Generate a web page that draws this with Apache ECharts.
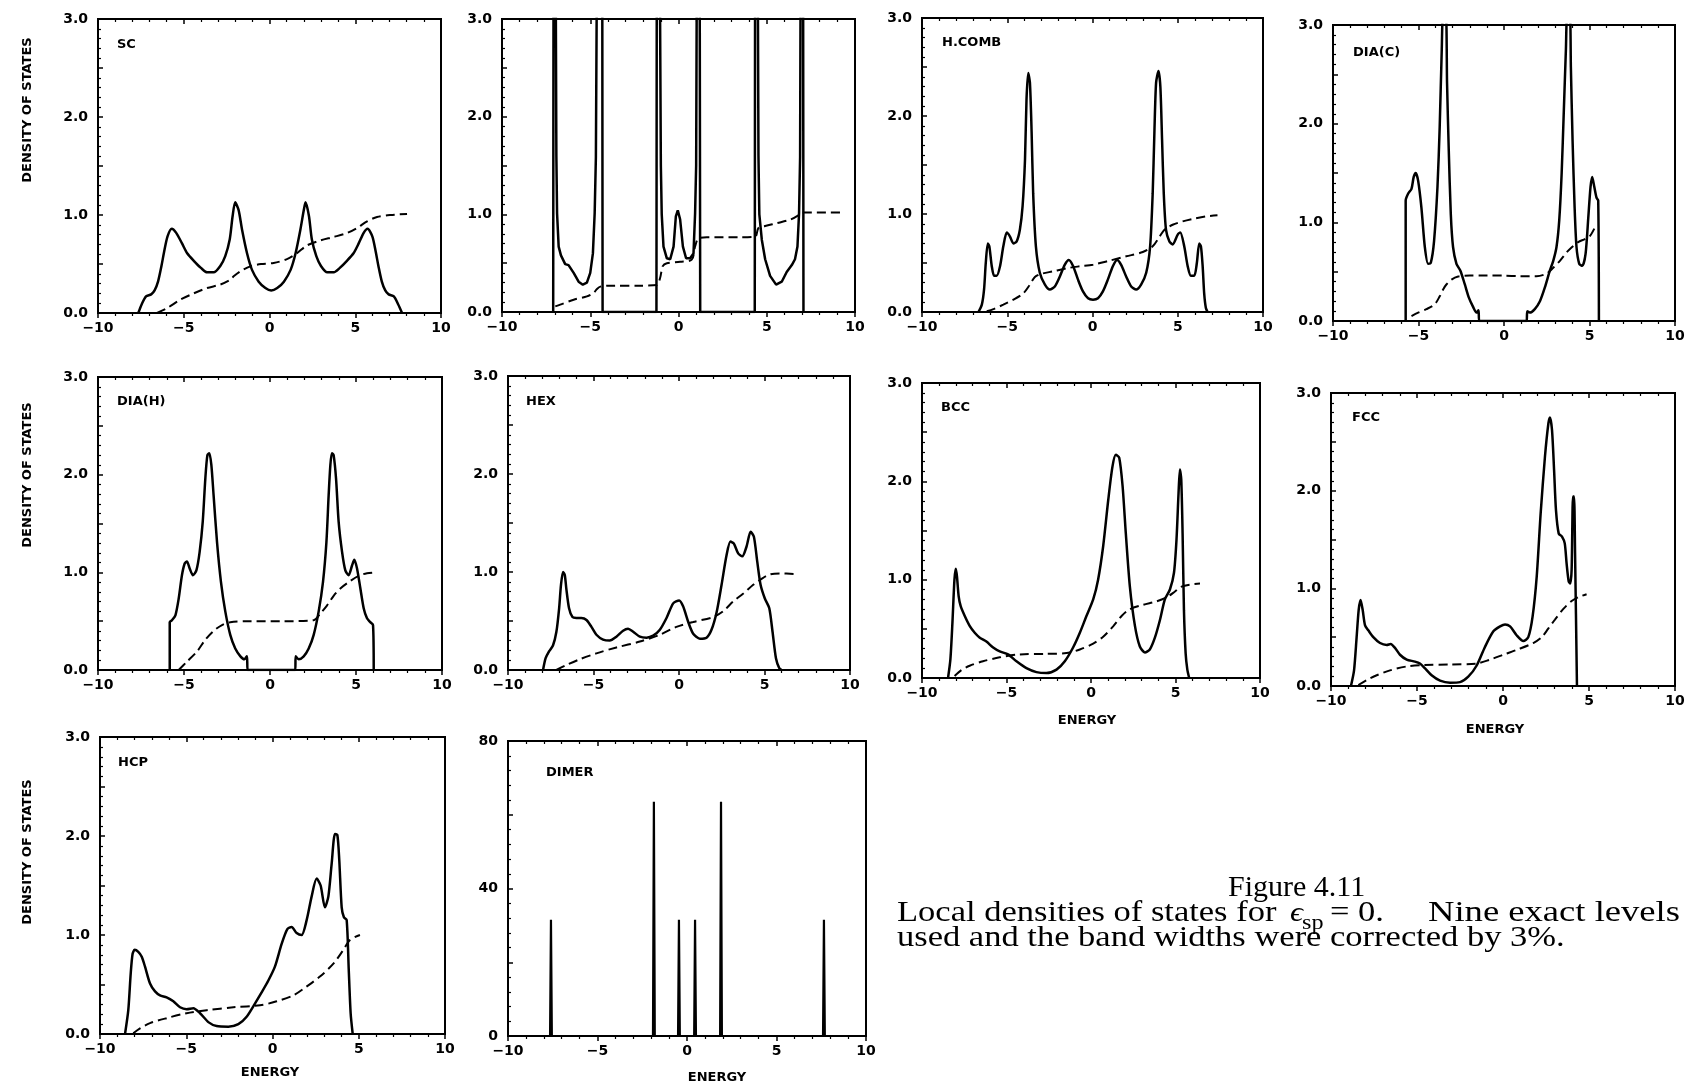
<!DOCTYPE html>
<html>
<head>
<meta charset="utf-8">
<script src="https://cdn.jsdelivr.net/npm/echarts@6/dist/echarts.min.js"></script>
<style>
  html, body { margin: 0; padding: 0; background: #fff; }
  #chart { width: 1688px; height: 1085px; }
</style>
</head>
<body>
<div id="chart"></div>
<script>
// ---- Local densities of states (solid) and integrated counts (dashed), energy in eV ----

const SC_DOS = [[-7.65,0],[-7.45,0.09],[-7.2,0.17],[-6.9,0.19],[-6.7,0.23],[-6.5,0.32],[-6.3,0.48],[-6.15,0.62],[-5.95,0.78],[-5.7,0.86],
  [-5.45,0.82],[-5.1,0.71],[-4.8,0.61],[-4.4,0.53],[-4.0,0.46],[-3.64,0.415],[-3.26,0.415],[-2.87,0.48],[-2.58,0.58],[-2.32,0.75],[-2.15,0.99],
  [-2.0,1.13],[-1.8,1.05],[-1.6,0.85],[-1.31,0.61],[-1.02,0.44],[-0.63,0.32],[-0.24,0.255],[0.1,0.23],[0.45,0.255],[0.84,0.32],[1.23,0.44],
  [1.52,0.61],[1.8,0.85],[2.0,1.05],[2.1,1.13],[2.3,0.99],[2.47,0.75],[2.73,0.58],[3.0,0.48],[3.37,0.415],[3.75,0.415],[4.1,0.46],[4.5,0.53],
  [4.9,0.61],[5.2,0.71],[5.5,0.82],[5.72,0.86],[6.0,0.78],[6.2,0.62],[6.35,0.48],[6.55,0.32],[6.75,0.23],[6.95,0.19],[7.25,0.17],[7.5,0.09],[7.73,0]];
const SC_INT = [[-6.56,0],[-5.97,0.05],[-5.2,0.136],[-4.42,0.2],[-3.64,0.255],[-2.87,0.29],[-2.28,0.34],[-2.09,0.374],[-1.7,0.425],[-1.12,0.476],
  [-0.5,0.5],[0.24,0.51],[1.02,0.55],[1.6,0.61],[2.19,0.69],[2.96,0.74],[3.74,0.776],[4.52,0.816],[5.1,0.867],[5.69,0.935],[6.27,0.98],[7.05,1.0],[8.02,1.01]];

const CHAIN_DOS = [[-7.1,0],[-7.08,3.6],[-6.96,3.6],[-6.92,1.6],[-6.88,1.01],[-6.79,0.67],[-6.66,0.58],[-6.42,0.49],[-6.23,0.48],[-5.94,0.4],
  [-5.66,0.31],[-5.42,0.28],[-5.19,0.3],[-5.0,0.4],[-4.85,0.6],[-4.75,1.01],[-4.68,1.59],[-4.62,3.6],[-4.32,3.6],[-4.3,0],
  [-1.25,0],[-1.23,3.6],[-1.06,3.6],[-1.0,1.5],[-0.95,1.0],[-0.85,0.67],[-0.66,0.55],[-0.47,0.54],[-0.28,0.67],[-0.15,0.98],[-0.04,1.04],
  [0.09,0.95],[0.25,0.67],[0.43,0.55],[0.66,0.55],[0.85,0.6],[0.94,1.01],[1.0,1.5],[1.04,3.6],[1.2,3.6],[1.23,0],
  [4.32,0],[4.34,3.6],[4.49,3.6],[4.53,1.6],[4.58,1.0],[4.72,0.74],[4.91,0.54],[5.19,0.37],[5.53,0.28],[5.85,0.31],[6.13,0.41],[6.42,0.48],
  [6.6,0.54],[6.74,0.67],[6.83,1.01],[6.89,1.59],[6.92,3.6],[7.06,3.6],[7.08,0]];
const CHAIN_INT = [[-6.98,0.058],[-6.7,0.075],[-5.94,0.126],[-5.19,0.16],[-4.81,0.195],[-4.62,0.235],[-4.43,0.26],[-3.68,0.27],[-2.17,0.27],
  [-1.23,0.276],[-1.04,0.35],[-0.89,0.47],[-0.66,0.5],[0.09,0.515],[0.75,0.536],[0.94,0.67],[1.13,0.755],[1.6,0.765],[3.49,0.765],[4.34,0.77],
  [4.53,0.86],[4.91,0.88],[5.57,0.91],[6.32,0.945],[6.79,0.99],[6.98,1.02],[9.15,1.02]];

const HCOMB_DOS = [[-6.69,0],[-6.49,0.075],[-6.36,0.23],[-6.26,0.5],[-6.14,0.7],[-6.05,0.67],[-5.91,0.47],[-5.77,0.37],[-5.62,0.37],[-5.42,0.47],
  [-5.23,0.67],[-5.03,0.81],[-4.84,0.77],[-4.64,0.7],[-4.45,0.72],[-4.26,0.84],[-4.1,1.08],[-3.96,1.55],[-3.87,2.17],[-3.77,2.44],[-3.67,2.34],
  [-3.57,1.83],[-3.48,1.21],[-3.32,0.67],[-3.09,0.4],[-2.79,0.28],[-2.5,0.23],[-2.21,0.26],[-1.92,0.36],[-1.63,0.48],[-1.39,0.53],[-1.14,0.47],
  [-0.85,0.33],[-0.56,0.21],[-0.26,0.14],[0.03,0.126],[0.32,0.14],[0.61,0.21],[0.9,0.33],[1.2,0.47],[1.45,0.53],[1.68,0.48],[1.98,0.36],
  [2.27,0.26],[2.56,0.23],[2.85,0.28],[3.15,0.4],[3.38,0.67],[3.53,1.21],[3.63,1.83],[3.73,2.34],[3.87,2.46],[3.98,2.3],[4.08,1.76],[4.18,1.21],
  [4.31,0.84],[4.51,0.72],[4.7,0.69],[5.0,0.79],[5.15,0.81],[5.38,0.67],[5.58,0.47],[5.77,0.37],[5.97,0.37],[6.12,0.5],[6.26,0.7],[6.36,0.67],
  [6.46,0.47],[6.55,0.19],[6.65,0.04],[6.75,0]];
const HCOMB_INT = [[-6.2,0.007],[-5.81,0.03],[-5.23,0.075],[-4.64,0.126],[-4.06,0.19],[-3.67,0.28],[-3.38,0.357],[-2.99,0.39],[-2.31,0.415],
  [-1.53,0.446],[-0.75,0.466],[0.03,0.483],[1.0,0.524],[1.98,0.568],[2.95,0.612],[3.53,0.67],[3.92,0.765],[4.22,0.84],[4.7,0.89],[5.29,0.925],
  [5.87,0.95],[6.65,0.976],[7.33,0.986]];

const DIAC_DOS = [[-5.75,0],[-5.75,1.22],[-5.61,1.29],[-5.41,1.34],[-5.28,1.46],[-5.16,1.5],[-5.02,1.42],[-4.83,1.15],[-4.63,0.75],[-4.44,0.58],
  [-4.28,0.59],[-4.09,0.81],[-3.89,1.36],[-3.76,1.97],[-3.64,2.75],[-3.56,3.1],[-3.4,3.1],[-3.33,2.41],[-3.23,1.73],[-3.11,1.08],[-2.98,0.75],
  [-2.78,0.58],[-2.55,0.51],[-2.29,0.37],[-2.06,0.24],[-1.8,0.14],[-1.61,0.085],[-1.49,0.11],[-1.45,0],
  [1.32,0],[1.36,0.1],[1.51,0.085],[1.8,0.12],[2.1,0.2],[2.39,0.34],[2.68,0.51],[2.88,0.61],[3.07,0.75],[3.23,1.02],[3.37,1.49],[3.5,2.14],
  [3.62,2.75],[3.7,3.1],[3.85,3.1],[3.91,2.58],[4.01,1.83],[4.13,1.15],[4.24,0.75],[4.4,0.58],[4.58,0.56],[4.77,0.68],[4.93,1.05],[5.06,1.36],
  [5.16,1.46],[5.28,1.36],[5.41,1.25],[5.51,1.22],[5.55,0]];
const DIAC_INT = [[-5.41,0.05],[-5.02,0.085],[-4.54,0.12],[-4.05,0.17],[-3.76,0.25],[-3.56,0.32],[-3.37,0.37],[-3.07,0.42],[-2.68,0.45],
  [-2.0,0.46],[-1.02,0.46],[-0.05,0.46],[0.93,0.454],[1.9,0.454],[2.49,0.48],[2.88,0.54],[3.27,0.61],[3.66,0.695],[3.95,0.745],[4.34,0.8],
  [4.73,0.83],[5.02,0.86],[5.32,0.95]];

const DIAH_DOS = [[-5.83,0],[-5.83,0.49],[-5.7,0.51],[-5.5,0.56],[-5.31,0.73],[-5.12,0.97],[-4.96,1.09],[-4.83,1.11],[-4.67,1.04],[-4.48,0.97],
  [-4.28,1.02],[-4.09,1.21],[-3.91,1.52],[-3.76,1.96],[-3.64,2.2],[-3.53,2.22],[-3.41,2.1],[-3.28,1.79],[-3.08,1.31],[-2.85,0.9],[-2.6,0.6],
  [-2.31,0.36],[-2.02,0.22],[-1.72,0.14],[-1.49,0.11],[-1.34,0.14],[-1.3,0],
  [1.47,0],[1.49,0.14],[1.67,0.11],[1.96,0.14],[2.25,0.22],[2.54,0.36],[2.83,0.6],[3.08,0.9],[3.28,1.31],[3.41,1.79],[3.51,2.1],[3.6,2.22],
  [3.7,2.2],[3.84,1.96],[3.99,1.52],[4.19,1.21],[4.38,1.02],[4.57,0.97],[4.77,1.07],[4.9,1.13],[5.06,1.04],[5.25,0.84],[5.45,0.63],[5.64,0.53],
  [5.83,0.49],[5.99,0.46],[6.03,0]];
const DIAH_INT = [[-5.31,0],[-4.83,0.085],[-4.24,0.19],[-3.76,0.31],[-3.28,0.4],[-2.79,0.46],[-2.31,0.49],[-1.14,0.5],[0.79,0.5],[2.54,0.51],
  [2.93,0.58],[3.31,0.66],[3.7,0.76],[4.09,0.835],[4.57,0.9],[5.16,0.965],[5.64,0.99],[6.22,1.0]];

const HEX_DOS = [[-7.95,0],[-7.8,0.12],[-7.6,0.19],[-7.37,0.25],[-7.17,0.39],[-7.01,0.63],[-6.9,0.87],[-6.78,1.0],[-6.68,0.97],[-6.59,0.83],
  [-6.43,0.63],[-6.23,0.54],[-6.0,0.53],[-5.71,0.53],[-5.41,0.51],[-5.12,0.44],[-4.83,0.36],[-4.44,0.31],[-4.05,0.3],[-3.66,0.34],[-3.27,0.4],
  [-2.98,0.42],[-2.68,0.39],[-2.29,0.34],[-1.9,0.33],[-1.51,0.35],[-1.12,0.41],[-0.73,0.53],[-0.34,0.68],[0.01,0.71],[0.24,0.65],[0.54,0.49],
  [0.83,0.37],[1.22,0.32],[1.61,0.33],[1.9,0.41],[2.2,0.59],[2.49,0.87],[2.78,1.17],[3.01,1.31],[3.21,1.29],[3.46,1.19],[3.7,1.16],[3.95,1.26],
  [4.19,1.41],[4.38,1.36],[4.58,1.1],[4.77,0.87],[5.02,0.73],[5.28,0.63],[5.47,0.39],[5.67,0.12],[5.86,0.02],[6.0,0]];
const HEX_INT = [[-7.17,0],[-6.59,0.05],[-5.8,0.11],[-4.83,0.17],[-3.66,0.23],[-2.29,0.29],[-1.12,0.36],[-0.15,0.44],[0.83,0.49],[2.0,0.54],
  [2.59,0.6],[3.17,0.7],[3.76,0.78],[4.34,0.87],[4.83,0.93],[5.32,0.975],[5.9,0.985],[6.78,0.98]];

const BCC_DOS = [[-8.46,0],[-8.32,0.19],[-8.2,0.56],[-8.08,1.0],[-8.0,1.11],[-7.93,1.03],[-7.83,0.83],[-7.71,0.73],[-7.47,0.63],[-7.18,0.53],
  [-6.88,0.46],[-6.58,0.41],[-6.19,0.37],[-5.79,0.31],[-5.4,0.27],[-4.91,0.24],[-4.41,0.17],[-3.82,0.1],[-3.23,0.06],[-2.64,0.05],[-2.04,0.085],
  [-1.55,0.17],[-1.06,0.31],[-0.66,0.46],[-0.27,0.63],[0.13,0.8],[0.42,1.0],[0.72,1.34],[1.02,1.81],[1.27,2.15],[1.47,2.27],[1.67,2.24],
  [1.87,1.95],[2.06,1.47],[2.3,0.93],[2.6,0.53],[2.89,0.32],[3.19,0.26],[3.48,0.29],[3.78,0.41],[4.08,0.59],[4.37,0.8],[4.67,0.9],[4.91,1.07],
  [5.06,1.41],[5.18,1.88],[5.26,2.12],[5.34,2.02],[5.42,1.47],[5.5,0.69],[5.6,0.25],[5.7,0.085],[5.81,0]];
const BCC_INT = [[-8.07,0.02],[-7.67,0.08],[-7.18,0.125],[-6.39,0.17],[-5.4,0.21],[-4.22,0.24],[-2.64,0.245],[-1.45,0.254],[-0.66,0.29],
  [0.13,0.35],[0.72,0.42],[1.31,0.525],[1.81,0.63],[2.3,0.7],[3.09,0.745],[3.88,0.78],[4.47,0.82],[4.97,0.88],[5.36,0.93],[5.85,0.95],[6.45,0.96]];

const FCC_DOS = [[-8.84,0],[-8.66,0.16],[-8.51,0.5],[-8.39,0.78],[-8.28,0.88],[-8.16,0.78],[-8.02,0.62],[-7.83,0.57],[-7.54,0.5],[-7.15,0.44],
  [-6.76,0.42],[-6.53,0.43],[-6.28,0.39],[-5.99,0.32],[-5.6,0.27],[-5.12,0.25],[-4.83,0.23],[-4.53,0.18],[-4.15,0.11],[-3.66,0.055],[-3.08,0.034],
  [-2.5,0.04],[-2.02,0.095],[-1.53,0.21],[-1.05,0.4],[-0.56,0.56],[-0.17,0.61],[0.12,0.63],[0.41,0.61],[0.79,0.52],[1.18,0.46],[1.47,0.5],
  [1.72,0.71],[1.96,1.12],[2.19,1.77],[2.44,2.35],[2.64,2.69],[2.73,2.75],[2.85,2.62],[2.97,2.21],[3.08,1.8],[3.24,1.56],[3.43,1.53],[3.59,1.46],
  [3.7,1.25],[3.82,1.07],[3.91,1.05],[3.99,1.19],[4.07,1.94],[4.13,1.94],[4.19,1.36],[4.3,0]];
const FCC_INT = [[-8.41,0.01],[-7.93,0.06],[-7.34,0.11],[-6.57,0.16],[-5.6,0.2],[-4.63,0.215],[-3.08,0.22],[-1.53,0.23],[-0.76,0.27],
  [0.02,0.32],[0.79,0.37],[1.76,0.44],[2.25,0.5],[2.64,0.59],[3.02,0.68],[3.51,0.79],[3.99,0.87],[4.38,0.91],[4.86,0.94]];

const HCP_DOS = [[-8.55,0],[-8.36,0.24],[-8.22,0.61],[-8.11,0.81],[-7.99,0.85],[-7.78,0.83],[-7.58,0.78],[-7.39,0.68],[-7.1,0.51],[-6.81,0.43],
  [-6.52,0.39],[-6.14,0.37],[-5.75,0.33],[-5.36,0.27],[-4.98,0.25],[-4.59,0.26],[-4.2,0.21],[-3.72,0.12],[-3.24,0.08],[-2.56,0.074],[-1.98,0.1],
  [-1.5,0.175],[-1.01,0.31],[-0.63,0.42],[-0.24,0.54],[0.14,0.68],[0.53,0.91],[0.86,1.06],[1.11,1.08],[1.4,1.02],[1.69,1.0],[1.98,1.15],
  [2.27,1.39],[2.56,1.57],[2.79,1.5],[3.04,1.28],[3.24,1.39],[3.43,1.72],[3.62,2.02],[3.76,2.01],[3.87,1.76],[4.01,1.28],[4.14,1.18],[4.3,1.15],
  [4.42,0.65],[4.53,0.21],[4.65,0]];
const HCP_INT = [[-8.07,0.007],[-7.68,0.057],[-7.1,0.11],[-6.14,0.16],[-4.98,0.21],[-3.82,0.24],[-2.27,0.27],[-0.72,0.29],[0.24,0.33],
  [1.21,0.39],[1.98,0.48],[2.75,0.58],[3.53,0.71],[4.11,0.85],[4.49,0.95],[5.07,1.0]];

// Dimer: discrete levels and their weights
const DIMER_LEVELS = [-7.6, -1.85, -0.45, 0.45, 1.9, 7.65];
const DIMER_WEIGHTS = [31.5, 63.5, 31.5, 31.5, 63.5, 31.5];

const PANEL_TITLES = ['SC', '', 'H.COMB', 'DIA(C)', 'DIA(H)', 'HEX', 'BCC', 'FCC', 'HCP', 'DIMER'];
const ENERGY_TICKS = [-10, -5, 0, 5, 10];
const DOS_LABELS = [0, 1, 2, 3];
const DIMER_LABELS = [0, 40, 80];

// ---- Panel geometry ----
const LAYOUT = [
  { left: 98,   top: 19,  width: 343, height: 294 },
  { left: 502,  top: 19,  width: 353, height: 293 },
  { left: 922,  top: 18,  width: 341, height: 294 },
  { left: 1333, top: 25,  width: 342, height: 296 },
  { left: 98,   top: 377, width: 344, height: 293 },
  { left: 508,  top: 376, width: 342, height: 294 },
  { left: 922,  top: 383, width: 338, height: 295 },
  { left: 1331, top: 393, width: 344, height: 293 },
  { left: 100,  top: 737, width: 345, height: 297 },
  { left: 508,  top: 741, width: 358, height: 295 }
];
const TITLE_OFFSET = [[19,26],[19,26],[20,25],[20,28],[19,25],[18,26],[19,25],[21,25],[18,26],[38,32]];

function dimerSpikes(levels, weights) {
  const out = [];
  levels.forEach((e, i) => { out.push([e - 0.05, 0], [e, weights[i]], [e + 0.05, 0]); });
  return out;
}

const CURVES = [
  [SC_DOS, SC_INT], [CHAIN_DOS, CHAIN_INT], [HCOMB_DOS, HCOMB_INT], [DIAC_DOS, DIAC_INT],
  [DIAH_DOS, DIAH_INT], [HEX_DOS, HEX_INT], [BCC_DOS, BCC_INT], [FCC_DOS, FCC_INT],
  [HCP_DOS, HCP_INT], [dimerSpikes(DIMER_LEVELS, DIMER_WEIGHTS), null]
];

const TICK_FONT = '"DejaVu Sans", "Liberation Sans", sans-serif';
const minus = v => (v < 0 ? '\u2212' + Math.abs(v) : String(v));

const grids = [], xAxes = [], yAxes = [], series = [], graphics = [];

LAYOUT.forEach((g, i) => {
  const isDimer = i === 9;
  grids.push({ left: g.left, top: g.top, width: g.width, height: g.height,
    show: true, borderColor: '#000', borderWidth: 2, backgroundColor: 'transparent' });

  const baseX = {
    type: 'value', gridIndex: i, min: ENERGY_TICKS[0], max: ENERGY_TICKS[ENERGY_TICKS.length - 1], interval: 5,
    axisLine: { show: true, onZero: false, lineStyle: { color: '#000', width: 2 } },
    splitLine: { show: false }, minorSplitLine: { show: false }
  };
  xAxes.push(Object.assign({}, baseX, {
    position: 'bottom',
    axisTick: { show: true, inside: false, length: 5, lineStyle: { color: '#000', width: 1.5 } },
    minorTick: { show: true, splitNumber: 5, length: 3, lineStyle: { color: '#000', width: 1.2 } },
    axisLabel: { show: true, color: '#000', fontFamily: TICK_FONT, fontWeight: 'bold', fontSize: 14, margin: 8,
      formatter: v => (ENERGY_TICKS.indexOf(v) >= 0 ? minus(v) : '') }
  }));
  xAxes.push(Object.assign({}, baseX, {
    position: 'top',
    axisTick: { show: true, inside: true, length: 5, lineStyle: { color: '#000', width: 1.5 } },
    minorTick: { show: true, splitNumber: 5, length: 3, lineStyle: { color: '#000', width: 1.2 } },
    axisLabel: { show: false }
  }));

  const labels = isDimer ? DIMER_LABELS : DOS_LABELS;
  yAxes.push({
    type: 'value', gridIndex: i, min: 0, max: isDimer ? 80 : 3, interval: isDimer ? 20 : 0.5,
    axisLine: { show: true, onZero: false, lineStyle: { color: '#000', width: 2 } },
    axisTick: { show: true, inside: true, length: 5, lineStyle: { color: '#000', width: 1.5 } },
    minorTick: { show: true, splitNumber: 5, length: 3, lineStyle: { color: '#000', width: 1.2 } },
    splitLine: { show: false }, minorSplitLine: { show: false },
    axisLabel: { color: '#000', fontFamily: TICK_FONT, fontWeight: 'bold', fontSize: 14, margin: 10,
      formatter: v => (labels.indexOf(Math.round(v * 1000) / 1000) >= 0 ? (isDimer ? String(v) : v.toFixed(1)) : '') }
  });

  const [dos, integ] = CURVES[i];
  series.push({
    type: 'line', xAxisIndex: 2 * i, yAxisIndex: i, data: dos, showSymbol: false, symbol: 'none',
    smooth: (i === 1 || isDimer) ? false : 0.25, clip: true, animation: false,
    lineStyle: { color: '#000', width: isDimer ? 2.2 : 2.5 }
  });
  if (integ) {
    series.push({
      type: 'line', xAxisIndex: 2 * i, yAxisIndex: i, data: integ, showSymbol: false, symbol: 'none',
      smooth: 0.3, clip: true, animation: false,
      lineStyle: { color: '#000', width: 2, type: [9, 5] }
    });
  }

  if (PANEL_TITLES[i]) {
    graphics.push({ type: 'text', x: g.left + TITLE_OFFSET[i][0], y: g.top + TITLE_OFFSET[i][1],
      style: { text: PANEL_TITLES[i], font: 'bold 13px ' + TICK_FONT, fill: '#000', align: 'left', verticalAlign: 'middle' } });
  }
});

// y-axis names on the left column
[110, 475, 852].forEach(cy => {
  graphics.push({ type: 'text', x: 28, y: cy, rotation: Math.PI / 2,
    style: { text: 'DENSITY OF STATES', font: 'bold 13px ' + TICK_FONT, fill: '#000', align: 'center', verticalAlign: 'middle' } });
});
// energy axis names
[[1087, 721], [1495, 730], [270, 1073], [717, 1078]].forEach(([x, y]) => {
  graphics.push({ type: 'text', x, y,
    style: { text: 'ENERGY', font: 'bold 13px ' + TICK_FONT, fill: '#000', align: 'center', verticalAlign: 'middle' } });
});

// figure caption
const SERIF = '"Liberation Serif", "DejaVu Serif", serif';
const CAP_FONT = '30px ' + SERIF;
const CAP_SCALE = 1.15;
const capText = (text, x, y, font, scale) => ({ type: 'text', x, y, scaleX: scale || CAP_SCALE,
  style: { text, font: font || CAP_FONT, fill: '#000', align: 'left', verticalAlign: 'bottom' } });
graphics.push(capText('Figure 4.11', 1228, 903, CAP_FONT, 1.0));
graphics.push(capText('Local densities of states for', 897, 928));
graphics.push(capText('\u03F5', 1290, 928, 'italic 28px ' + SERIF));
graphics.push(capText('sp', 1302, 934, '21px ' + SERIF));
graphics.push(capText('= 0.', 1330, 928));
graphics.push(capText('Nine exact levels', 1428, 928, CAP_FONT, 1.22));
graphics.push(capText('used and the band widths were corrected by 3%.', 897, 953));

const chart = echarts.init(document.getElementById('chart'), null, { renderer: 'canvas' });
chart.setOption({
  backgroundColor: '#fff',
  animation: false,
  grid: grids,
  xAxis: xAxes,
  yAxis: yAxes,
  series: series,
  graphic: { elements: graphics }
});
</script>
</body>
</html>
